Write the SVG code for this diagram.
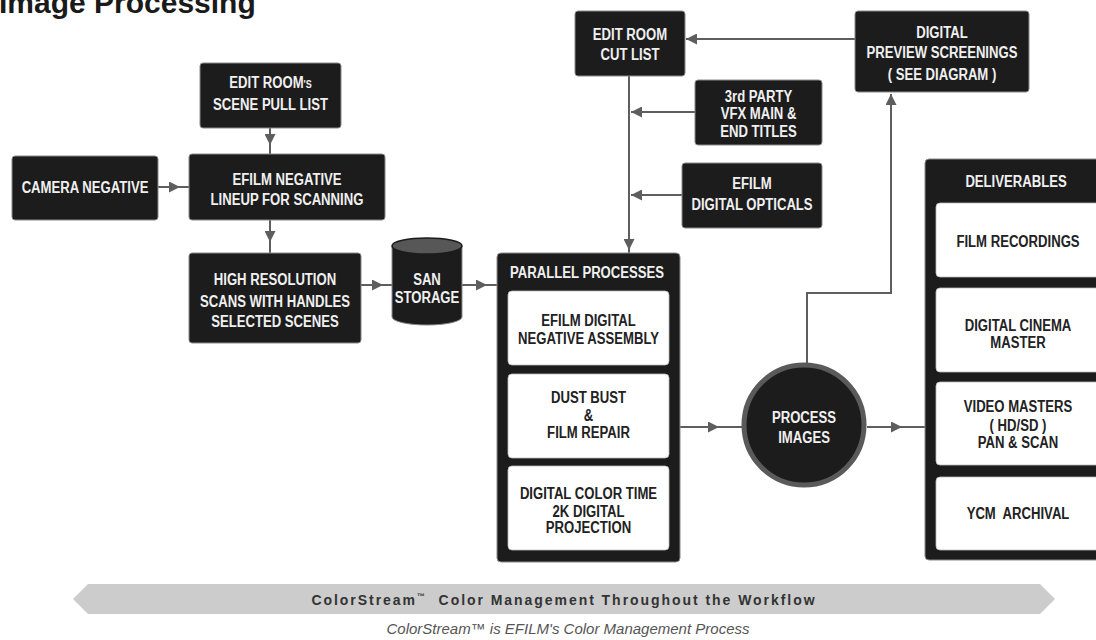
<svg xmlns="http://www.w3.org/2000/svg" width="1096" height="640" viewBox="0 0 1096 640">
<style>
.node{fill:#1c1c1c;stroke:#8a8a8a;stroke-width:1}
.inner{fill:#ffffff;stroke:#bbbbbb;stroke-width:0.8}
.t,.d{font-family:"Liberation Sans",Arial,sans-serif;font-weight:bold;font-size:16px;text-anchor:middle;transform-box:fill-box;transform-origin:center;transform:scaleX(0.82)}
.t{fill:#f0f0f0}
.d{fill:#222222}
.c{fill:none;stroke:#5e5e5e;stroke-width:2}
</style>
<defs>
<marker id="ah" viewBox="0 0 10 10" refX="10" refY="5" markerUnits="userSpaceOnUse" markerWidth="11" markerHeight="11" orient="auto">
<path d="M0,0 L10,5 L0,10 Z" fill="#5e5e5e"/>
</marker>
</defs>
<rect width="1096" height="640" fill="#ffffff"/>
<text x="-1" y="13" font-family="'Liberation Sans',Arial,sans-serif" font-weight="bold" font-size="30" fill="#1a1a1a">Image Processing</text>

<g id="connectors">
<path class="c" d="M270,128 L270,145 L270,154" marker-mid="url(#ah)"/>
<path class="c" d="M158,187 L180,187 L189,187" marker-mid="url(#ah)"/>
<path class="c" d="M270,220 L270,242 L270,253" marker-mid="url(#ah)"/>
<path class="c" d="M361,285 L383,285 L392,285" marker-mid="url(#ah)"/>
<path class="c" d="M462,285 L487,285 L497,285" marker-mid="url(#ah)"/>
<path class="c" d="M629,76 L629,250 L629,253" marker-mid="url(#ah)"/>
<path class="c" d="M695,112 L631,112" marker-end="url(#ah)"/>
<path class="c" d="M682,195 L631,195" marker-end="url(#ah)"/>
<path class="c" d="M855,39 L686,39" marker-end="url(#ah)"/>
<path class="c" d="M680,427 L719,427 L742,427" marker-mid="url(#ah)"/>
<path class="c" d="M867,427 L902,427 L925,427" marker-mid="url(#ah)"/>
<path class="c" d="M807,363 L807,293 L891,293 L891,94" marker-end="url(#ah)"/>
</g>

<g id="scene-pull">
<rect class="node" x="200" y="63" width="141" height="65" rx="3"/>
<text class="t" x="270.5" y="88">EDIT ROOM<tspan font-size="11">'S</tspan></text>
<text class="t" x="270.5" y="110">SCENE PULL LIST</text>
</g>
<g id="camera-negative">
<rect class="node" x="12" y="156" width="146" height="64" rx="3"/>
<text class="t" x="85" y="193">CAMERA NEGATIVE</text>
</g>
<g id="negative-lineup">
<rect class="node" x="189" y="154" width="196" height="66" rx="3"/>
<text class="t" x="287" y="185">EFILM NEGATIVE</text>
<text class="t" x="287" y="205">LINEUP FOR SCANNING</text>
</g>
<g id="high-res-scans">
<rect class="node" x="189" y="253" width="172" height="90" rx="3"/>
<text class="t" x="275" y="285">HIGH RESOLUTION</text>
<text class="t" x="275" y="307">SCANS WITH HANDLES</text>
<text class="t" x="275" y="327">SELECTED SCENES</text>
</g>
<g id="san-storage">
<path d="M392,246 L392,317 A35,8 0 0 0 462,317 L462,246 Z" fill="#1c1c1c" stroke="#8a8a8a" stroke-width="1"/>
<ellipse cx="427" cy="246" rx="35" ry="8" fill="#575757" stroke="#1c1c1c" stroke-width="1.5"/>
<text class="t" x="427" y="285" font-size="15">SAN</text>
<text class="t" x="427" y="303" font-size="15">STORAGE</text>
</g>
<g id="parallel-processes">
<rect class="node" x="497" y="253" width="183" height="309" rx="4"/>
<text class="t" x="587" y="278">PARALLEL PROCESSES</text>
<rect class="inner" x="508" y="291" width="161" height="74" rx="4"/>
<text class="d" x="588.5" y="326">EFILM DIGITAL</text>
<text class="d" x="588.5" y="344">NEGATIVE ASSEMBLY</text>
<rect class="inner" x="508" y="374" width="161" height="84" rx="4"/>
<text class="d" x="588.5" y="403">DUST BUST</text>
<text class="d" x="588.5" y="421">&amp;</text>
<text class="d" x="588.5" y="438">FILM REPAIR</text>
<rect class="inner" x="508" y="466" width="161" height="84" rx="4"/>
<text class="d" x="588.5" y="499">DIGITAL COLOR TIME</text>
<text class="d" x="588.5" y="517">2K DIGITAL</text>
<text class="d" x="588.5" y="533">PROJECTION</text>
</g>
<g id="edit-room-cut-list">
<rect class="node" x="575" y="11" width="110" height="65" rx="3"/>
<text class="t" x="630" y="40">EDIT ROOM</text>
<text class="t" x="630" y="60">CUT LIST</text>
</g>
<g id="third-party-vfx">
<rect class="node" x="695" y="80" width="127" height="65" rx="3"/>
<text class="t" x="758.5" y="102">3rd PARTY</text>
<text class="t" x="758.5" y="119.5">VFX MAIN &amp;</text>
<text class="t" x="758.5" y="137">END TITLES</text>
</g>
<g id="digital-opticals">
<rect class="node" x="682" y="163" width="140" height="65" rx="3"/>
<text class="t" x="752" y="189">EFILM</text>
<text class="t" x="752" y="210">DIGITAL OPTICALS</text>
</g>
<g id="preview-screenings">
<rect class="node" x="855" y="11" width="174" height="81" rx="3"/>
<text class="t" x="942" y="38">DIGITAL</text>
<text class="t" x="942" y="58">PREVIEW SCREENINGS</text>
<text class="t" x="942" y="80">( SEE DIAGRAM )</text>
</g>
<g id="process-images">
<circle cx="804" cy="425" r="60" fill="#1c1c1c" stroke="#5a5a5a" stroke-width="5"/>
<text class="t" x="804" y="423">PROCESS</text>
<text class="t" x="804" y="443">IMAGES</text>
</g>
<g id="deliverables">
<rect class="node" x="925" y="159" width="185" height="401" rx="4"/>
<text class="t" x="1016" y="187">DELIVERABLES</text>
<rect class="inner" x="936" y="203" width="168" height="74" rx="4"/>
<text class="d" x="1018" y="247">FILM RECORDINGS</text>
<rect class="inner" x="936" y="288" width="168" height="84" rx="4"/>
<text class="d" x="1018" y="331">DIGITAL CINEMA</text>
<text class="d" x="1018" y="348">MASTER</text>
<rect class="inner" x="936" y="382" width="168" height="83" rx="4"/>
<text class="d" x="1018" y="412">VIDEO MASTERS</text>
<text class="d" x="1018" y="431">( HD/SD )</text>
<text class="d" x="1018" y="448">PAN &amp; SCAN</text>
<rect class="inner" x="936" y="477" width="168" height="73" rx="4"/>
<text class="d" x="1018" y="519" xml:space="preserve">YCM  ARCHIVAL</text>
</g>

<g id="colorstream-banner">
<polygon points="88,584 1040,584 1055,599 1040,614 88,614 73,599" fill="#cccccc"/>
<text x="564" y="605" text-anchor="middle" font-family="'Liberation Sans',Arial,sans-serif" font-weight="bold" font-size="14" fill="#333333" letter-spacing="1.95" xml:space="preserve">ColorStream<tspan font-size="8" dy="-6">™</tspan><tspan dy="6">  Color Management Throughout the Workflow</tspan></text>
<text x="568" y="634" text-anchor="middle" font-family="'Liberation Sans',Arial,sans-serif" font-style="italic" font-size="15" fill="#555555">ColorStream™ is EFILM's Color Management Process</text>
</g>
</svg>
